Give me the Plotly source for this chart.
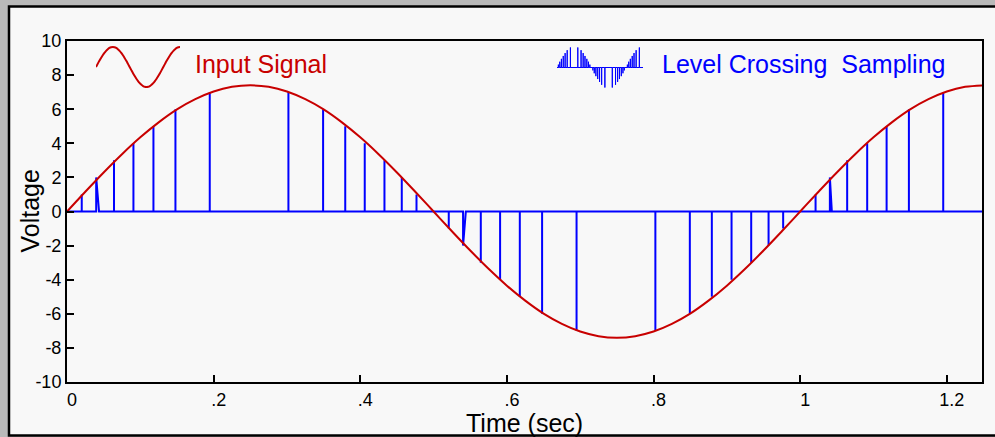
import plotly.graph_objects as go

# ---------------- data ----------------
# Input signal (volts) every 0.025 s
signal_time = [0.000, 0.025, 0.050, 0.075, 0.100, 0.125, 0.150, 0.175, 0.200, 0.225,
               0.250, 0.275, 0.300, 0.325, 0.350, 0.375, 0.400, 0.425, 0.450, 0.475,
               0.500, 0.525, 0.550, 0.575, 0.600, 0.625, 0.650, 0.675, 0.700, 0.725,
               0.750, 0.775, 0.800, 0.825, 0.850, 0.875, 0.900, 0.925, 0.950, 0.975,
               1.000, 1.025, 1.050, 1.075, 1.100, 1.125, 1.150, 1.175, 1.200, 1.225,
               1.250]
signal_volt = [0.00, 1.16, 2.29, 3.36, 4.35, 5.23, 5.99, 6.59, 7.04, 7.31,
               7.40, 7.31, 7.04, 6.59, 5.99, 5.23, 4.35, 3.36, 2.29, 1.16,
               0.00, -1.16, -2.29, -3.36, -4.35, -5.23, -5.99, -6.59, -7.04, -7.31,
               -7.40, -7.31, -7.04, -6.59, -5.99, -5.23, -4.35, -3.36, -2.29, -1.16,
               0.00, 1.16, 2.29, 3.36, 4.35, 5.23, 5.99, 6.59, 7.04, 7.31,
               7.40]

# Level crossing samples: time of crossing, level, time the trace returns to 0
sample_time = [0.0201, 0.0398, 0.0641, 0.0906, 0.1179, 0.1479, 0.1947,
               0.3020, 0.3493, 0.3795, 0.4061, 0.4330, 0.4566, 0.4767,
               0.5207, 0.5402, 0.5644, 0.5907, 0.6176, 0.6480, 0.6950,
               0.8025, 0.8495, 0.8795, 0.9064, 0.9332, 0.9569, 0.9768,
               1.0210, 1.0405, 1.0641, 1.0914, 1.1179, 1.1483, 1.1951]
sample_level = [1, 2, 3, 4, 5, 6, 7,
                7, 6, 5, 4, 3, 2, 1,
                -1, -2, -3, -4, -5, -6, -7,
                -7, -6, -5, -4, -3, -2, -1,
                1, 2, 3, 4, 5, 6, 7]
sample_return = [0.0201, 0.0437, 0.0641, 0.0906, 0.1179, 0.1479, 0.1947,
                 0.3020, 0.3493, 0.3795, 0.4061, 0.4330, 0.4566, 0.4767,
                 0.5207, 0.5440, 0.5644, 0.5907, 0.6176, 0.6480, 0.6950,
                 0.8025, 0.8495, 0.8795, 0.9064, 0.9332, 0.9569, 0.9768,
                 1.0210, 1.0432, 1.0641, 1.0914, 1.1179, 1.1483, 1.1951]

x_tickvals = [0, 0.2, 0.4, 0.6, 0.8, 1.0, 1.2]
x_ticktext = ["0", ".2", ".4", ".6", ".8", "1", "1.2"]
y_tickvals = [-10, -8, -6, -4, -2, 0, 2, 4, 6, 8, 10]
y_ticktext = ["-10", "-8", "-6", "-4", "-2", "0", "2", "4", "6", "8", "10"]

# ---------------- build sampled trace ----------------
T_END = 1.248
bx, by = [0.0], [0.0]
for t, v, r in zip(sample_time, sample_level, sample_return):
    bx += [t, t, r]
    by += [0, v, 0]
bx.append(T_END)
by.append(0)

RED = "#c80000"
BLUE = "#0000ff"
FONT = "Liberation Sans, Arial, Helvetica, sans-serif"

W, H = 995, 437
ML, MR, MT, MB = 67, 13, 41, 55
PW, PH = W - ML - MR, H - MT - MB


def px_x(p):
    return (p - ML) / PW


def px_y(p):
    return (H - MB - p) / PH


fig = go.Figure()

# main traces
fig.add_trace(go.Scatter(x=bx, y=by, mode="lines",
                         line=dict(color=BLUE, width=2), hoverinfo="skip",
                         showlegend=False))
fig.add_trace(go.Scatter(x=signal_time, y=signal_volt, mode="lines",
                         line=dict(color=RED, width=2, shape="spline"),
                         hoverinfo="skip", showlegend=False))

# legend icons (mini copies of the series)
fig.add_trace(go.Scatter(x=signal_time, y=signal_volt, mode="lines",
                         line=dict(color=RED, width=2, shape="spline"),
                         xaxis="x2", yaxis="y2", hoverinfo="skip",
                         showlegend=False))
fig.add_trace(go.Scatter(x=bx, y=by, mode="lines",
                         line=dict(color=BLUE, width=1),
                         xaxis="x3", yaxis="y3", hoverinfo="skip",
                         showlegend=False))

axis_common = dict(showline=True, linecolor="black", linewidth=2,
                   mirror=True, ticks="inside", ticklen=7, tickwidth=2,
                   tickcolor="black", showgrid=False, zeroline=False,
                   tickfont=dict(family=FONT, size=18, color="black"))

fig.update_layout(
    width=W, height=H, autosize=False,
    margin=dict(l=ML, r=MR, t=MT, b=MB, pad=0),
    paper_bgcolor="#b9b9b9",
    plot_bgcolor="#f8f8f8",
    font=dict(family=FONT, color="black"),
    xaxis=dict(range=[0, T_END], tickmode="array", tickvals=x_tickvals,
               ticktext=x_ticktext, ticklabelshift=5, **axis_common),
    yaxis=dict(range=[-10, 10], tickmode="array", tickvals=y_tickvals,
               ticktext=y_ticktext, **axis_common),
    xaxis2=dict(domain=[px_x(96), px_x(180)], range=[0, T_END],
                visible=False, anchor="y2"),
    yaxis2=dict(domain=[px_y(91), px_y(43)], range=[-8.88, 8.88],
                visible=False, anchor="x2"),
    xaxis3=dict(domain=[px_x(557), px_x(643)], range=[0, T_END],
                visible=False, anchor="y3"),
    yaxis3=dict(domain=[px_y(87.7), px_y(47.3)], range=[-7, 7],
                visible=False, anchor="x3"),
    shapes=[dict(type="rect", xref="paper", yref="paper",
                 x0=px_x(9), x1=px_x(1010), y0=px_y(435.5), y1=px_y(6.5),
                 line=dict(color="black", width=2.5),
                 fillcolor="#f8f8f8", layer="below")],
    annotations=[
        dict(text="Voltage", xref="paper", yref="paper",
             x=px_x(29), y=0.5, textangle=-90, showarrow=False,
             xanchor="center", yanchor="middle",
             font=dict(family=FONT, size=25, color="black")),
        dict(text="Time (sec)", xref="paper", yref="paper",
             x=0.5, y=px_y(423), showarrow=False,
             xanchor="center", yanchor="middle",
             font=dict(family=FONT, size=25, color="black")),
        dict(text="Input Signal", xref="paper", yref="paper",
             x=px_x(193), y=px_y(64), showarrow=False,
             xanchor="left", yanchor="middle",
             font=dict(family=FONT, size=25, color=RED)),
        dict(text="Level Crossing\u00a0 Sampling", xref="paper", yref="paper",
             x=px_x(660), y=px_y(64), showarrow=False,
             xanchor="left", yanchor="middle",
             font=dict(family=FONT, size=25, color=BLUE)),
    ],
)

fig.write_html("out.html")
